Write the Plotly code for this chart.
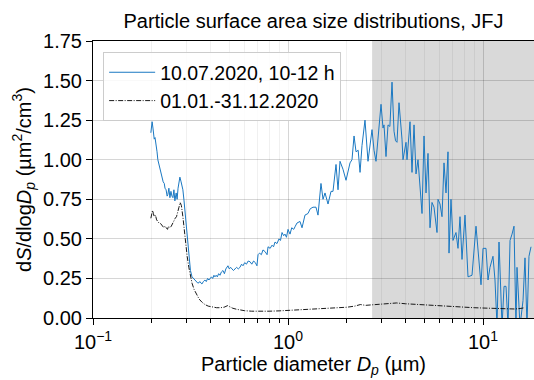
import plotly.graph_objects as go

# Blue series: 10.07.2020, 10-12 h
d_blue = [0.198, 0.201, 0.203, 0.206, 0.208, 0.210, 0.213, 0.215, 0.218, 0.221,
          0.223, 0.226, 0.229, 0.232, 0.234, 0.237, 0.240, 0.242, 0.245, 0.248,
          0.251, 0.254, 0.257, 0.260, 0.263, 0.267, 0.270, 0.273, 0.276, 0.279,
          0.283, 0.286, 0.289, 0.293, 0.296, 0.300, 0.303, 0.307, 0.311, 0.316,
          0.322, 0.327, 0.333, 0.339, 0.345, 0.350, 0.354, 0.358, 0.362, 0.368,
          0.375, 0.381, 0.387, 0.393, 0.398, 0.405, 0.411, 0.417, 0.422, 0.428,
          0.434, 0.441, 0.448, 0.455, 0.464, 0.472, 0.480, 0.492, 0.500, 0.508,
          0.516, 0.525, 0.535, 0.545, 0.556, 0.567, 0.578, 0.588, 0.600, 0.612,
          0.625, 0.639, 0.652, 0.666, 0.680, 0.693, 0.702, 0.715, 0.730, 0.744,
          0.762, 0.781, 0.790, 0.810, 0.828, 0.843, 0.858, 0.878, 0.899, 0.915,
          0.932, 0.950, 0.965, 0.982, 1.000, 1.024, 1.045, 1.070, 1.090, 1.112,
          1.152, 1.180, 1.222, 1.266, 1.300, 1.343, 1.392, 1.425, 1.476, 1.512,
          1.548, 1.604, 1.662, 1.701, 1.763, 1.805, 1.848, 1.914, 1.984, 2.080,
          2.129, 2.181, 2.233, 2.290, 2.341, 2.396, 2.482, 2.572, 2.697, 2.761,
          2.827, 2.894, 2.999, 3.070, 3.107, 3.181, 3.257, 3.330, 3.415, 3.497,
          3.560, 3.622, 3.709, 3.842, 3.888, 4.028, 4.076, 4.223, 4.324, 4.428,
          4.533, 4.642, 4.867, 4.983, 5.103, 5.223, 5.348, 5.476, 5.607, 5.809,
          5.878, 6.019, 6.162, 6.310, 6.460, 6.614, 6.693, 6.852, 7.017, 7.268,
          7.443, 7.622, 7.803, 8.084, 8.376, 8.782, 9.207, 9.766, 10.00, 10.36,
          10.61, 10.86, 11.25, 11.52, 11.80, 12.08, 12.52, 12.82, 13.12, 13.44,
          13.76, 14.09, 14.42, 14.76, 14.94, 15.48, 16.04, 16.42, 16.81, 17.21,
          17.63]
s_blue = [1.17, 1.24, 1.20, 1.13, 1.14, 1.11, 1.05, 1.00, 0.97, 0.94,
          0.92, 0.88, 0.86, 0.85, 0.82, 0.81, 0.77, 0.78, 0.82, 0.76,
          0.80, 0.77, 0.76, 0.81, 0.74, 0.79, 0.75, 0.82, 0.86, 0.89,
          0.86, 0.84, 0.81, 0.74, 0.68, 0.60, 0.51, 0.43, 0.35, 0.30,
          0.26, 0.25, 0.24, 0.23, 0.22, 0.225, 0.23, 0.22, 0.215, 0.23,
          0.24, 0.23, 0.25, 0.24, 0.25, 0.26, 0.25, 0.27, 0.26, 0.27,
          0.26, 0.28, 0.27, 0.29, 0.30, 0.28, 0.31, 0.33, 0.31, 0.32,
          0.31, 0.30, 0.31, 0.32, 0.31, 0.32, 0.34, 0.33, 0.35, 0.34,
          0.36, 0.355, 0.34, 0.36, 0.35, 0.33, 0.40, 0.41, 0.40, 0.43,
          0.42, 0.40, 0.45, 0.44, 0.46, 0.45, 0.48, 0.47, 0.50, 0.49,
          0.54, 0.52, 0.53, 0.51, 0.56, 0.53, 0.57, 0.56, 0.58, 0.60,
          0.61, 0.57, 0.65, 0.66, 0.69, 0.70, 0.70, 0.65, 0.85, 0.75,
          0.79, 0.72, 0.80, 0.80, 0.97, 0.81, 0.99, 0.94, 0.87, 0.98,
          1.00, 1.15, 1.05, 1.06, 0.92, 1.09, 1.25, 0.99, 1.19, 1.06,
          0.99, 1.13, 1.35, 1.20, 1.22, 1.02, 1.22, 1.21, 1.49, 1.18,
          1.12, 1.11, 1.36, 1.13, 1.00, 1.11, 1.00, 1.24, 0.92, 1.22,
          0.91, 1.00, 0.66, 1.15, 0.79, 1.04, 0.57, 0.73, 0.70, 0.54,
          0.75, 0.72, 0.64, 0.98, 0.79, 1.05, 0.41, 0.75, 0.49, 0.54,
          0.44, 0.64, 0.37, 0.65, 0.26, 0.27, 0.58, 0.21, 0.44, 0.44,
          0.24, 0.32, 0.39, 0.24, -0.05, 0.48, -0.05, 0.20, 0.20, -0.05,
          0.49, 0.53, 0.58, -0.05, 0.32, -0.05, 0.11, 0.38, -0.05, 0.39,
          0.45]

# Black series: 01.01.-31.12.2020
d_black = [0.198, 0.200, 0.202, 0.204, 0.206, 0.209, 0.212, 0.215, 0.218, 0.221,
           0.224, 0.228, 0.231, 0.234, 0.237, 0.241, 0.244, 0.248, 0.252, 0.256,
           0.260, 0.264, 0.268, 0.272, 0.276, 0.280, 0.284, 0.289, 0.294, 0.299,
           0.304, 0.310, 0.316, 0.322, 0.330, 0.340, 0.350, 0.362, 0.375, 0.390,
           0.410, 0.430, 0.450, 0.470, 0.490, 0.505, 0.520, 0.545, 0.570, 0.600,
           0.650, 0.700, 0.800, 0.900, 1.0, 1.2, 1.4, 1.6, 1.8, 2.0,
           2.2, 2.35, 2.5, 2.8, 3.2, 3.6, 4.0, 4.6, 5.3, 6.0,
           7.0, 8.0, 9.0, 10.0, 11.5, 13.0, 14.5, 15.5, 16.4]
s_black = [0.63, 0.66, 0.68, 0.66, 0.64, 0.65, 0.62, 0.61, 0.60, 0.60,
           0.59, 0.58, 0.57, 0.58, 0.57, 0.56, 0.58, 0.57, 0.58, 0.60,
           0.61, 0.63, 0.64, 0.68, 0.70, 0.73, 0.71, 0.64, 0.55, 0.47,
           0.39, 0.32, 0.26, 0.22, 0.18, 0.15, 0.12, 0.10, 0.085, 0.075,
           0.068, 0.065, 0.065, 0.068, 0.078, 0.070, 0.062, 0.055, 0.050, 0.046,
           0.043, 0.042, 0.043, 0.045, 0.048, 0.052, 0.055, 0.060, 0.065, 0.068,
           0.075, 0.085, 0.080, 0.085, 0.088, 0.095, 0.090, 0.085, 0.080, 0.075,
           0.070, 0.068, 0.065, 0.063, 0.060, 0.058, 0.057, 0.060, 0.065]

shade_start = 2.70
x_min, x_max = 0.1, 18.26
y_min, y_max = 0.0, 1.75
y_ticks = [0.0, 0.25, 0.5, 0.75, 1.0, 1.25, 1.5, 1.75]
y_ticktext = ["0.00", "0.25", "0.50", "0.75", "1.00", "1.25", "1.50", "1.75"]
x_ticks = [0.1, 1, 10]
x_ticktext = ["10<sup>−1</sup>", "10<sup>0</sup>", "10<sup>1</sup>"]
x_minor = [0.2, 0.3, 0.4, 0.5, 0.6, 0.7, 0.8, 0.9, 2, 3, 4, 5, 6, 7, 8, 9]

FONT = "Liberation Sans, Arial, sans-serif"

fig = go.Figure()
fig.add_trace(go.Scatter(x=d_blue, y=s_blue, mode="lines",
                         line=dict(color="#1a78c2", width=1),
                         name="10.07.2020, 10-12 h"))
fig.add_trace(go.Scatter(x=d_black, y=s_black, mode="lines",
                         line=dict(color="black", width=0.9, dash="5px,1.5px,1px,1.5px"),
                         name="01.01.-31.12.2020"))

fig.add_shape(type="rect", xref="x", yref="paper", x0=shade_start, x1=x_max,
              y0=0, y1=1, fillcolor="#d9d9d9", line=dict(width=0), layer="below")

fig.update_layout(
    width=534, height=380,
    margin=dict(l=93, r=0, t=41, b=62),
    paper_bgcolor="white", plot_bgcolor="white",
    font=dict(family=FONT, size=20, color="black"),
    title=dict(text="Particle surface area size distributions, JFJ",
               xref="paper", x=0.5, xanchor="center",
               y=0.945, yanchor="middle", font=dict(size=20)),
    showlegend=True,
    legend=dict(x=0.023, y=0.96, xanchor="left", yanchor="top",
                bgcolor="rgba(255,255,255,0.85)", bordercolor="#cccccc", borderwidth=1,
                font=dict(size=19.5), itemwidth=46, tracegroupgap=0),
)
fig.update_xaxes(
    type="log", range=[-1, 1.2615],
    tickvals=x_ticks, ticktext=x_ticktext,
    ticks="outside", ticklen=6, tickwidth=1, tickcolor="black",
    showline=True, linecolor="black", linewidth=1, mirror=True,
    showgrid=True, gridcolor="rgba(0,0,0,0.16)", gridwidth=1,
    minor=dict(tickvals=x_minor, ticks="outside", ticklen=3.5, tickcolor="black",
               showgrid=True, gridcolor="rgba(0,0,0,0.06)", gridwidth=1),
    title=dict(text="Particle diameter <i>D</i><sub><i>p</i></sub> (µm)", standoff=4,
               font=dict(size=20)),
    tickfont=dict(size=20), zeroline=False,
)
fig.update_yaxes(
    range=[y_min, y_max], tickvals=y_ticks, ticktext=y_ticktext,
    ticks="outside", ticklen=6, tickwidth=1, tickcolor="black",
    showline=True, linecolor="black", linewidth=1, mirror=True,
    showgrid=True, gridcolor="rgba(0,0,0,0.16)", gridwidth=1, zeroline=False,
    title=dict(text="d<i>S</i>/dlog<i>D</i><sub><i>p</i></sub> (µm<sup>2</sup>/cm<sup>3</sup>)",
               standoff=6, font=dict(size=20)),
    tickfont=dict(size=20),
)

fig.write_html("out.html")
